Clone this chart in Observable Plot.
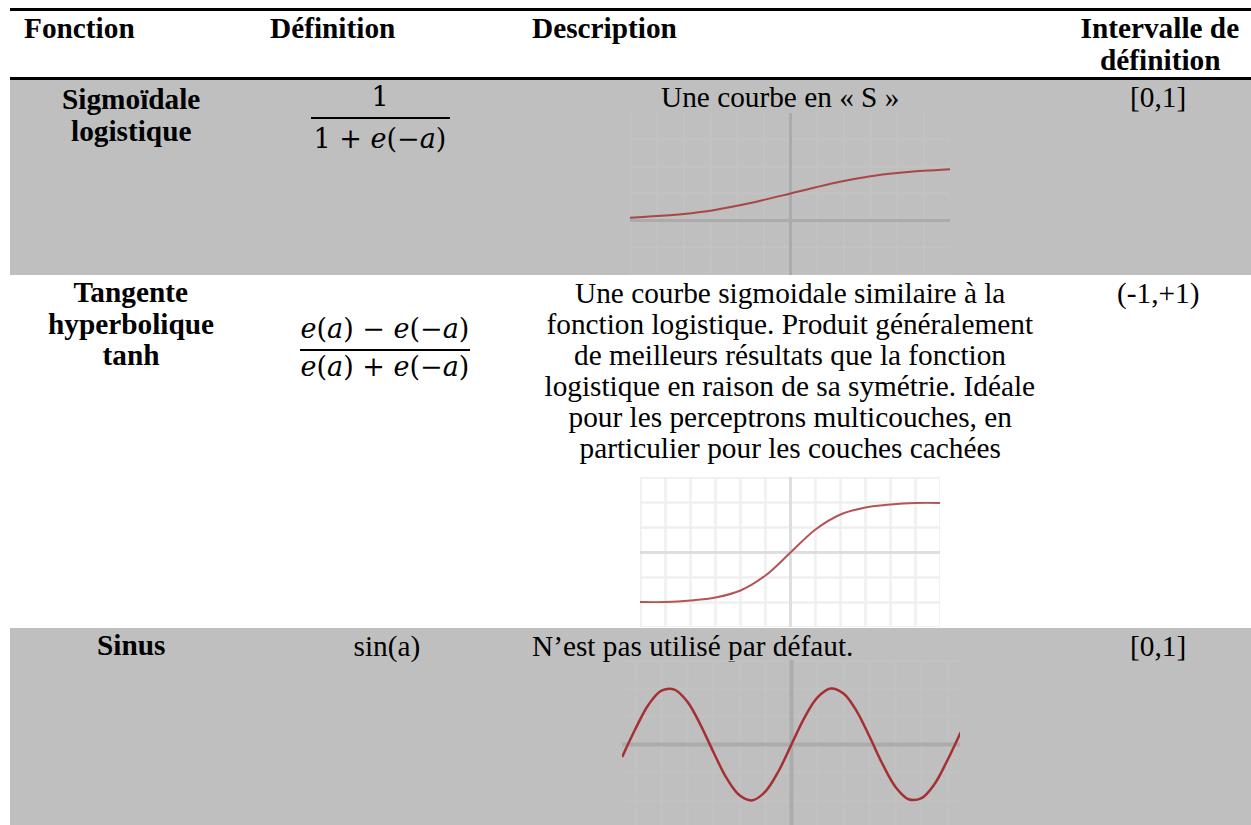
<!DOCTYPE html>
<html><head><meta charset="utf-8">
<script src="https://cdn.jsdelivr.net/npm/d3@7"></script>
<script src="https://cdn.jsdelivr.net/npm/@observablehq/plot@0.6"></script>
<style>
html,body{margin:0;padding:0;background:#fff;}
#page{position:relative;width:1251px;height:825px;overflow:hidden;font-family:"Liberation Serif","Times New Roman",serif;color:#000;}
.abs{position:absolute;white-space:nowrap;}
.t{font-size:29.3px;line-height:32px;}
.b{font-weight:bold;}
.m{font-family:"DejaVu Serif",serif;font-size:27px;line-height:32px;}
.m i{font-style:italic;}
.blk{position:absolute;}
</style></head><body><div id="page"></div>
<script>
// ---------- table content ----------
const headers = ["Fonction", "Définition", "Description"];
const headerInterval = ["Intervalle de", "définition"];
const fonctions = [["Sigmoïdale", "logistique"], ["Tangente", "hyperbolique", "tanh"], ["Sinus"]];
const defNumerators = ["1", "<i>e</i>(<i>a</i>) − <i>e</i>(−<i>a</i>)"];
const defDenominators = ["1 + <i>e</i>(−<i>a</i>)", "<i>e</i>(<i>a</i>) + <i>e</i>(−<i>a</i>)"];
const defSinus = "sin(a)";
const descriptions = [
  ["Une courbe en « S »"],
  ["Une courbe sigmoidale similaire à la",
   "fonction logistique. Produit généralement",
   "de meilleurs résultats que la fonction",
   "logistique en raison de sa symétrie. Idéale",
   "pour les perceptrons multicouches, en",
   "particulier pour les couches cachées"],
  ["N’est pas utilisé par défaut."]
];
const intervalles = ["[0,1]", "(-1,+1)", "[0,1]"];

// ---------- curve values ----------
const sigX = [-3, -2.5, -2, -1.5, -1, -0.5, 0, 0.5, 1, 1.5, 2, 2.5, 3];
const sigY = [0.05, 0.08, 0.12, 0.18, 0.27, 0.38, 0.5, 0.62, 0.73, 0.82, 0.88, 0.92, 0.95];
const tanhX = [-3, -2.5, -2, -1.5, -1, -0.5, 0, 0.5, 1, 1.5, 2, 2.5, 3];
const tanhY = [-0.99, -0.99, -0.96, -0.9, -0.76, -0.46, 0, 0.46, 0.76, 0.9, 0.96, 0.99, 0.99];
const sinX = [-6.5, -6, -5.5, -5, -4.5, -4, -3.5, -3, -2.5, -2, -1.5, -1, -0.5, 0, 0.5, 1, 1.5, 2, 2.5, 3, 3.5, 4, 4.5, 5, 5.5, 6, 6.5];
const sinY = [-0.21, 0.28, 0.71, 0.96, 0.98, 0.76, 0.35, -0.14, -0.6, -0.91, -1, -0.84, -0.48, 0, 0.48, 0.84, 1, 0.91, 0.6, 0.14, -0.35, -0.76, -0.98, -0.96, -0.71, -0.28, 0.21];

// ---------- layout helpers ----------
const page = document.getElementById("page");
function block(x, y, w, h, color) {
  const d = document.createElement("div");
  d.className = "blk";
  Object.assign(d.style, {left: x + "px", top: y + "px", width: w + "px", height: h + "px", background: color});
  page.appendChild(d);
}
function put(html, x, baseline, align, cls) {
  const d = document.createElement("div");
  d.className = "abs " + cls;
  d.innerHTML = html + '<span style="display:inline-block;width:0;height:0"></span>';
  page.appendChild(d);
  const strut = d.lastChild;
  const off = strut.offsetTop;
  const w = d.offsetWidth;
  let left = x;
  if (align === "center") left = x - w / 2;
  else if (align === "right") left = x - w;
  d.style.left = left + "px";
  d.style.top = (baseline - off) + "px";
}

// backgrounds and rules
block(10, 80, 1241, 195, "#bfbfbf");
block(10, 628, 1241, 200, "#bfbfbf");
block(10, 8, 1241, 3, "#000");
block(10, 77, 1241, 3, "#000");

// header
const headerX = [24, 270, 532];
headers.forEach((h, i) => put(h, headerX[i], 38, "left", "t b"));
headerInterval.forEach((h, i) => put(h, 1160, 38 + 32 * i, "center", "t b"));

// Fonction column
const rowBase = [107, 303, 656];
const fonctionBase = [109, 302, 655];
fonctions.forEach((lines, r) => lines.forEach((l, k) => put(l, 131, fonctionBase[r] + 31.5 * k, "center", "t b")));

// Définition column
put(defNumerators[0], 380, 106, "center", "m");
block(311, 117, 139, 2, "#000");
put(defDenominators[0], 380, 148, "center", "m");
put(defNumerators[1], 385, 338, "center", "m");
block(300, 349, 170, 2, "#000");
put(defDenominators[1], 385, 376, "center", "m");
put(defSinus, 387, rowBase[2], "center", "t");

// Description column
descriptions[0].forEach((l, k) => put(l, 780, rowBase[0] + 31 * k, "center", "t"));
descriptions[1].forEach((l, k) => put(l, 790, rowBase[1] + 31 * k, "center", "t"));
descriptions[2].forEach((l, k) => put(l, 532, rowBase[2] + 31 * k, "left", "t"));

// Intervalle column
intervalles.forEach((v, r) => put(v, 1158, rowBase[r], "center", "t"));

// ---------- mini charts ----------
function mini(o) {
  const data = o.xs.map((x, i) => ({x, y: o.ys[i]}));
  const svg = Plot.plot({
    width: o.width, height: o.height, margin: 0,
    x: {domain: o.xDomain, axis: null},
    y: {domain: o.yDomain, axis: null},
    style: {background: "transparent", overflow: "hidden"},
    marks: [
      Plot.ruleX(o.gridX, {stroke: o.gridColor, strokeWidth: o.gridWidth}),
      Plot.ruleY(o.gridY, {stroke: o.gridColor, strokeWidth: o.gridWidth}),
      Plot.ruleX([0], {stroke: o.axisColor, strokeWidth: o.axisWidth}),
      Plot.ruleY([0], {stroke: o.axisColor, strokeWidth: o.axisWidth}),
      Plot.line(data, {x: "x", y: "y", stroke: o.stroke, strokeWidth: o.strokeWidth, curve: "catmull-rom"})
    ]
  });
  const wrap = document.createElement("div");
  wrap.className = "blk";
  wrap.style.left = o.left + "px";
  wrap.style.top = o.top + "px";
  wrap.appendChild(svg);
  page.appendChild(wrap);
}

mini({xs: sigX, ys: sigY, left: 630, top: 113, width: 320, height: 162,
  xDomain: [-3, 3], yDomain: [-1.02, 1.98],
  gridX: d3.range(-3, 3.01, 0.5), gridY: d3.range(-1, 2, 0.5),
  gridColor: "#c3c3c3", gridWidth: 2, axisColor: "#ababab", axisWidth: 3,
  stroke: "#a94646", strokeWidth: 2});

mini({xs: tanhX, ys: tanhY, left: 640, top: 477, width: 300, height: 150,
  xDomain: [-3, 3], yDomain: [-1.5, 1.5],
  gridX: d3.range(-3, 3.01, 0.5), gridY: d3.range(-1.5, 1.51, 0.5),
  gridColor: "#efefef", gridWidth: 2.5, axisColor: "#dedede", axisWidth: 3,
  stroke: "#b45454", strokeWidth: 2});

mini({xs: sinX, ys: sinY, left: 622, top: 660, width: 338, height: 165,
  xDomain: [-6.5, 6.5], yDomain: [-1.45, 1.5],
  gridX: d3.range(-6, 6.01, 1), gridY: d3.range(-1, 1.51, 0.5),
  gridColor: "#c2c2c2", gridWidth: 2, axisColor: "#acacac", axisWidth: 4,
  stroke: "#a52f33", strokeWidth: 2.5});
</script></body></html>
